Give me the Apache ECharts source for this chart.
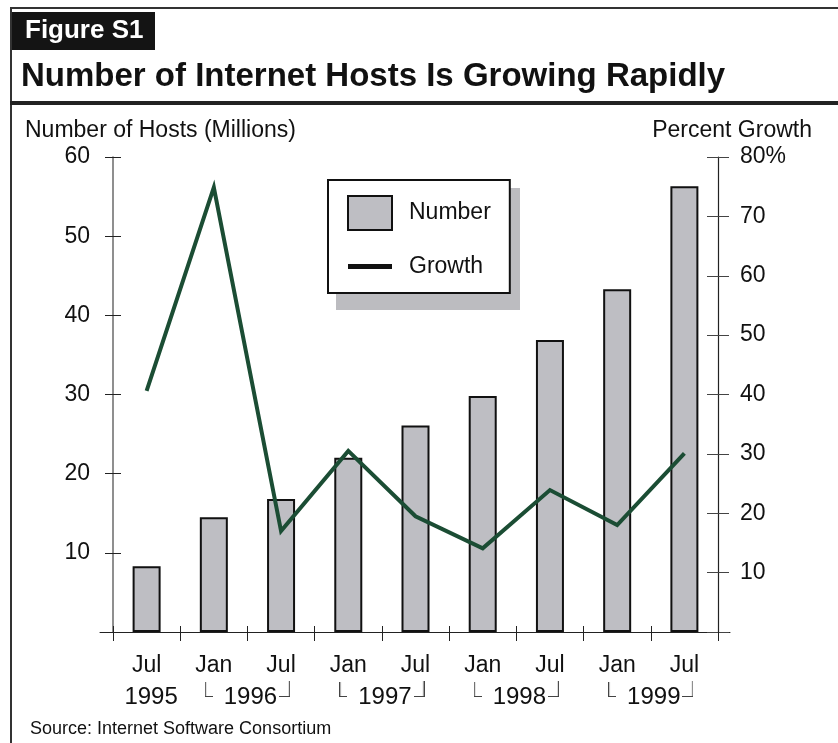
<!DOCTYPE html>
<html><head><meta charset="utf-8">
<script src="https://cdn.jsdelivr.net/npm/echarts@6/dist/echarts.min.js"></script>
<style>html,body{margin:0;padding:0;background:#fff}#c{width:838px;height:743px}</style>
</head><body><div id="c"></div>
<script>
const months = ['Jul','Jan','Jul','Jan','Jul','Jan','Jul','Jan','Jul'];
const years = ['1995','1996','1997','1998','1999'];
const yearPos = [0, 1.5, 3.5, 5.5, 7.5];
const hosts = [8.3, 14.5, 16.8, 22.0, 26.1, 29.8, 36.9, 43.3, 56.3];
const growth = [40.6, 74.9, 17.0, 30.5, 19.5, 14.1, 23.9, 18.0, 30.1];

const F = 'Liberation Sans, Arial, sans-serif';

function bracket(side) {
  const w = side === 'l' ? 8 : 11, h = 40;
  const c = document.createElement('canvas');
  c.width = w; c.height = h;
  const g = c.getContext('2d');
  g.strokeStyle = '#444'; g.lineWidth = 1.2;
  g.beginPath();
  if (side === 'l') { g.moveTo(0.6, 5); g.lineTo(0.6, 19.5); g.lineTo(w, 19.5); }
  else { g.moveTo(0, 19.5); g.lineTo(w - 0.6, 19.5); g.lineTo(w - 0.6, 4); }
  g.stroke();
  return c;
}
const bl = bracket('l'), br = bracket('r');

const chart = echarts.init(document.getElementById('c'));
const boundaries = [];
for (let i = 0; i <= months.length; i++) boundaries.push(i - 0.5);

chart.setOption({
  animation: false,
  textStyle: {fontFamily: F},
  title: [
    {text: 'Figure S1', left: 25, top: 18, padding: 0, textStyle: {color: '#fff', fontSize: 26, fontWeight: 'bold', fontFamily: F}},
    {text: 'Number of Internet Hosts Is Growing Rapidly', left: 21, top: 60, padding: 0, textStyle: {color: '#111', fontSize: 33, fontWeight: 'bold', fontFamily: F}},
    {text: 'Number of Hosts (Millions)', left: 25, top: 119, padding: 0, textStyle: {color: '#111', fontSize: 23, fontWeight: 'normal', fontFamily: F}},
    {text: 'Percent Growth', right: 26, top: 119, padding: 0, textStyle: {color: '#111', fontSize: 23, fontWeight: 'normal', fontFamily: F}},
    {text: 'Source: Internet Software Consortium', left: 30, top: 720, padding: 0, textStyle: {color: '#111', fontSize: 18, fontWeight: 'normal', fontFamily: F}}
  ],
  graphic: [
    {type: 'line', shape: {x1: 10, y1: 8, x2: 838, y2: 8}, style: {stroke: '#333', lineWidth: 2}},
    {type: 'line', shape: {x1: 11, y1: 8, x2: 11, y2: 743}, style: {stroke: '#333', lineWidth: 2}},
    {type: 'rect', shape: {x: 12, y: 12, width: 143, height: 38}, style: {fill: '#141414'}, z: -1},
    {type: 'rect', shape: {x: 10, y: 101, width: 828, height: 4}, style: {fill: '#222'}},
    {type: 'rect', shape: {x: 336, y: 188, width: 184, height: 122}, style: {fill: '#bcbcc0'}, z: 1}
  ],
  legend: {
    left: 328, top: 180, orient: 'vertical', z: 6,
    padding: [15, 19, 15, 19],
    itemWidth: 44, itemHeight: 34, itemGap: 24,
    backgroundColor: '#fff', borderColor: '#111', borderWidth: 2,
    textStyle: {fontSize: 23, color: '#111', fontFamily: F, padding: [0, 0, 0, 12], width: 85},
    data: [
      {name: 'Number', icon: 'rect', itemStyle: {color: '#bebec3', borderColor: '#111', borderWidth: 2},
        textStyle: {padding: [11, 0, 0, 12]}},
      {name: 'Growth', icon: 'path://M0,0H44V5H0Z', itemStyle: {color: '#111', borderWidth: 0}}
    ]
  },
  grid: [
    {left: 113, right: 120, top: 157, bottom: 111},
    {left: 100, right: 108, top: 157, bottom: 111}
  ],
  xAxis: [
    {type: 'category', gridIndex: 0, data: months,
      axisLine: {show: false},
      axisTick: {show: true, length: 9, lineStyle: {color: '#222', width: 1}},
      axisLabel: {margin: 22, fontSize: 23, color: '#111', fontFamily: F}},
    {type: 'value', gridIndex: 1, min: -0.5 - 13/(605/9), max: 8.5 + 12/(605/9),
      splitLine: {show: false},
      axisLine: {show: true, onZero: false, lineStyle: {color: '#222', width: 1}},
      axisTick: {show: true, inside: true, length: 6, customValues: boundaries, lineStyle: {color: '#222'}},
      axisLabel: {show: true, margin: 45, customValues: yearPos, fontSize: 24, color: '#111', fontFamily: F,
        formatter: function (v) {
          const i = yearPos.findIndex(p => Math.abs(p - v) < 1e-6);
          if (i < 0) return '';
          if (i === 0) return '{y|' + years[i] + '}';
          return '{l|}{y|' + years[i] + '}{r|}';
        },
        rich: {
          y: {fontSize: 24, lineHeight: 40, color: '#111', fontFamily: F, padding: [0, 2, 0, 11]},
          l: {width: 8, height: 40, backgroundColor: {image: bl}},
          r: {width: 11, height: 40, backgroundColor: {image: br}}
        }
      }}
  ],
  yAxis: [
    {type: 'value', gridIndex: 0, position: 'left', min: 0, max: 60, interval: 10,
      splitLine: {show: false},
      axisLine: {show: true, lineStyle: {color: '#6a6a6a', width: 1.5}},
      axisTick: {show: true, length: 8, lineStyle: {color: '#222'}},
      axisLabel: {margin: 23, fontSize: 23, color: '#111', fontFamily: F,
        formatter: v => v === 0 ? '' : String(v)}},
    {type: 'value', gridIndex: 0, position: 'right', min: 0, max: 80, interval: 10,
      splitLine: {show: false},
      axisLine: {show: true, lineStyle: {color: '#222', width: 1.2}},
      axisTick: {show: true, length: 11, lineStyle: {color: '#444'}},
      axisLabel: {margin: 22, fontSize: 23, color: '#111', fontFamily: F,
        formatter: v => v === 0 ? '' : (v === 80 ? '80%' : String(v))}},
    {type: 'value', gridIndex: 0, position: 'left', min: 0, max: 60, interval: 10,
      splitLine: {show: false}, axisLine: {show: false}, axisLabel: {show: false},
      axisTick: {show: true, inside: true, length: 8, lineStyle: {color: '#222'}}},
    {type: 'value', gridIndex: 0, position: 'right', min: 0, max: 80, interval: 10,
      splitLine: {show: false}, axisLine: {show: false}, axisLabel: {show: false},
      axisTick: {show: true, inside: true, length: 11, lineStyle: {color: '#444'}}},
    {type: 'value', gridIndex: 1, min: 0, max: 1, show: false}
  ],
  series: [
    {name: 'Number', type: 'bar', xAxisIndex: 0, yAxisIndex: 0, data: hosts, barWidth: 28,
      itemStyle: {color: '#bebec3', borderColor: '#111', borderWidth: 2}},
    {name: 'Growth', type: 'line', xAxisIndex: 0, yAxisIndex: 1, data: growth,
      symbol: 'none', showSymbol: false, z: 5,
      lineStyle: {color: '#1b4d34', width: 4, join: 'miter'},
      itemStyle: {color: '#1b4d34'}}
  ]
});
</script></body></html>
